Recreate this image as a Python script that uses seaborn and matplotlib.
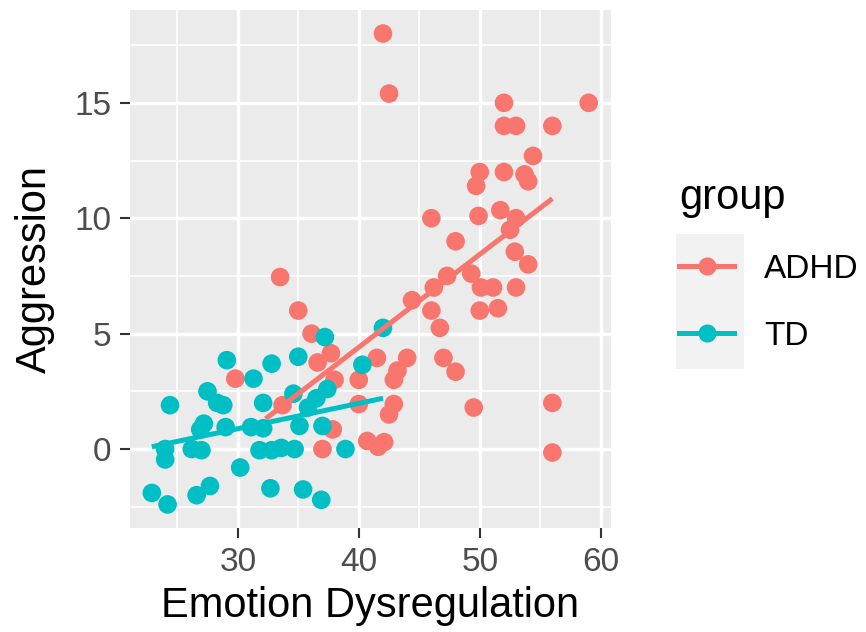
import numpy as np
import pandas as pd
import matplotlib
matplotlib.use("Agg")
import matplotlib.pyplot as plt
import seaborn as sns
from matplotlib.lines import Line2D
from matplotlib.patches import Rectangle
from matplotlib.ticker import FixedLocator

# ---------------- data ----------------
adhd_x = [42.0, 42.5, 52.0, 59.0, 52.0, 53.0, 56.0, 54.4, 50.0, 52.0,
          53.7, 54.0, 49.7, 46.0, 49.9, 51.7, 53.0, 52.5, 48.0, 52.9,
          54.0, 47.3, 49.3, 46.2, 50.1, 51.1, 53.0, 44.4, 46.0, 50.0,
          51.5, 46.7, 47.0, 48.0, 49.5, 56.0, 56.0, 33.5, 35.0, 36.1,
          37.7, 36.6, 38.0, 41.5, 40.0, 43.2, 44.0, 42.9, 42.9, 42.5,
          40.0, 37.85, 37.0, 40.7, 41.6, 42.1, 29.8, 33.7]
adhd_y = [18.0, 15.4, 15.0, 15.0, 14.0, 14.0, 14.0, 12.7, 12.0, 12.0,
          11.9, 11.6, 11.4, 10.0, 10.1, 10.35, 10.0, 9.5, 9.0, 8.55,
          8.0, 7.5, 7.6, 7.0, 7.0, 7.0, 7.0, 6.45, 6.0, 6.0,
          6.1, 5.25, 3.95, 3.35, 1.8, 2.0, -0.15, 7.45, 6.0, 5.0,
          4.15, 3.75, 3.0, 3.95, 3.0, 3.4, 3.95, 3.0, 1.95, 1.5,
          1.95, 0.85, 0.0, 0.35, 0.1, 0.3, 3.05, 1.9]

td_x = [22.9, 24.2, 24.0, 24.0, 24.4, 26.2, 27.0, 26.6, 27.7, 26.9,
        27.2, 27.5, 28.3, 28.8, 29.1, 29.0, 30.2, 31.1, 31.3, 32.1,
        32.1, 32.8, 31.8, 32.8, 33.6, 34.7, 32.7, 35.0, 34.6, 35.1,
        35.4, 36.9, 37.0, 37.4, 37.2, 36.5, 35.8, 38.9, 40.3, 42.0]
td_y = [-1.9, -2.4, 0.0, -0.45, 1.9, 0.0, -0.05, -2.0, -1.6, 0.85,
        1.1, 2.5, 2.0, 1.9, 3.85, 0.95, -0.8, 0.95, 3.05, 2.0,
        0.9, 3.7, -0.05, -0.05, 0.05, 0.0, -1.7, 4.0, 2.4, 1.0,
        -1.75, -2.2, 1.0, 2.6, 4.85, 2.2, 1.8, 0.0, 3.65, 5.25]

# fitted (linear smooth) values
adhd_fit_x = [32.3, 56.0]
adhd_fit_y = [1.31, 10.85]
td_fit_x = [22.9, 42.0]
td_fit_y = [0.10, 2.20]

groups = ["ADHD", "TD"]
group_colors = ["#F8766D", "#00BFC4"]
x_ticks = [30, 40, 50, 60]
y_ticks = [0, 5, 10, 15]
x_title = "Emotion Dysregulation"
y_title = "Aggression"
legend_title = "group"

df = pd.DataFrame({
    "x": adhd_x + td_x,
    "y": adhd_y + td_y,
    "group": ["ADHD"] * len(adhd_x) + ["TD"] * len(td_x),
})
fit_df = pd.DataFrame({
    "x": adhd_fit_x + td_fit_x,
    "y": adhd_fit_y + td_fit_y,
    "group": ["ADHD"] * len(adhd_fit_x) + ["TD"] * len(td_fit_x),
})
palette = dict(zip(groups, group_colors))

# ---------------- style ----------------
plt.rcParams["font.family"] = ["Liberation Sans", "DejaVu Sans"]

fig = plt.figure(figsize=(8.66, 6.32), dpi=100)
ax = fig.add_axes([130 / 866, (632 - 528) / 632, (610.5 - 130) / 866, (528 - 10) / 632])
ax.set_facecolor("#EBEBEB")
for s in ax.spines.values():
    s.set_visible(False)

sns.scatterplot(data=df, x="x", y="y", hue="group", palette=palette,
                hue_order=groups, s=180, linewidth=0, legend=False,
                ax=ax, zorder=3)
for g in groups:
    sub = fit_df[fit_df["group"] == g]
    sns.lineplot(data=sub, x="x", y="y", color=palette[g], ax=ax,
                 linewidth=3.6, solid_capstyle="butt", zorder=4,
                 legend=False)

# limits with ggplot-like 5% expansion
xr = df["x"].max() - df["x"].min()
yr = df["y"].max() - df["y"].min()
ax.set_xlim(df["x"].min() - 0.05 * xr, df["x"].max() + 0.05 * xr)
ax.set_ylim(df["y"].min() - 0.05 * yr, df["y"].max() + 0.05 * yr)

ax.xaxis.set_major_locator(FixedLocator(x_ticks))
ax.yaxis.set_major_locator(FixedLocator(y_ticks))
ax.xaxis.set_minor_locator(FixedLocator([(a + b) / 2 for a, b in zip([20] + x_ticks, x_ticks + [70])]))
ax.yaxis.set_minor_locator(FixedLocator([(a + b) / 2 for a, b in zip([-5] + y_ticks, y_ticks + [20])]))
ax.grid(which="major", color="white", lw=2.4, zorder=0)
ax.grid(which="minor", color="white", lw=1.2, zorder=0)
ax.set_axisbelow(True)
ax.tick_params(which="major", length=7.5, width=1.5, color="#333333",
               labelcolor="#4D4D4D", labelsize=24, pad=6)
ax.tick_params(which="minor", length=0)

ax.set_xlabel(x_title, fontsize=30, color="black", labelpad=6)
ax.set_ylabel(y_title, fontsize=30, color="black", labelpad=14)

# legend
key_bg = Rectangle((676 / 866, 1 - 369 / 632), 68 / 866, 135 / 632,
                   transform=fig.transFigure, facecolor="#F2F2F2",
                   edgecolor="none", zorder=-1)
fig.patches.append(key_bg)
handles = [Line2D([0], [0], color=c, lw=3.6, marker="o", markersize=13,
                  markeredgewidth=0) for c in group_colors]
leg = ax.legend(handles, groups, title=legend_title, loc="upper left",
                bbox_to_anchor=(679 / 866, 1 - 178 / 632),
                bbox_transform=fig.transFigure, frameon=False,
                fontsize=24, title_fontsize=30, handlelength=1.65,
                handletextpad=0.9, labelspacing=1.08, borderpad=0,
                borderaxespad=0)
leg._legend_box.align = "left"

fig.savefig("out.png", dpi=100)
